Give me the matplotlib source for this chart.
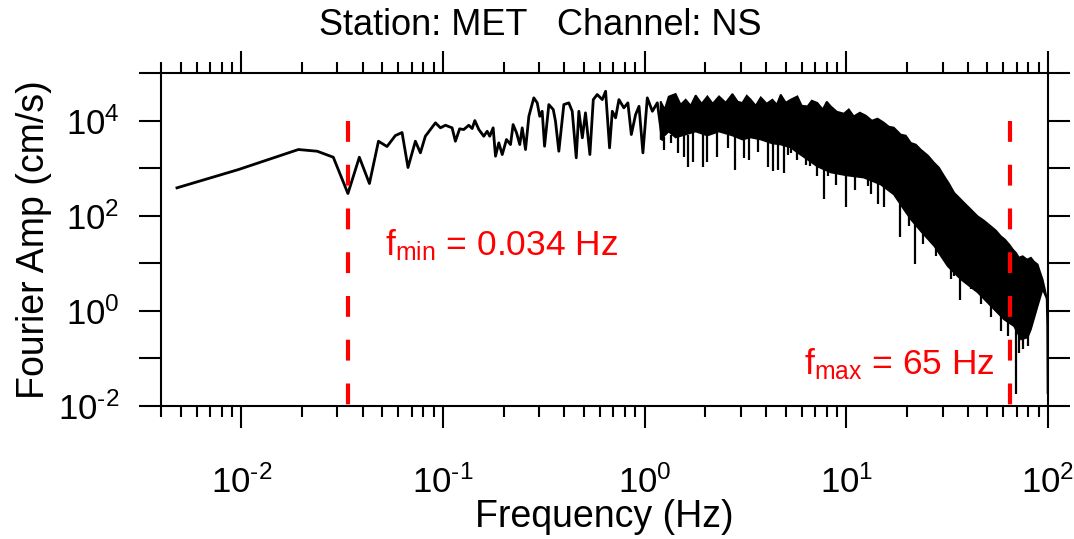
import numpy as np
import matplotlib
matplotlib.use('Agg')
import matplotlib.pyplot as plt
from matplotlib.ticker import LogLocator, FuncFormatter, NullLocator

# low-frequency part of the spectrum (drawn as a plain line)
line_freq = [0.0048, 0.0097, 0.0192, 0.0238, 0.0286, 0.0338, 0.0385, 0.0432, 0.0479, 0.0528,
             0.0581, 0.0627, 0.0671, 0.0730, 0.0773, 0.0818, 0.0918, 0.0972, 0.1029, 0.111,
             0.1153, 0.121, 0.1268, 0.1343, 0.1396, 0.1439, 0.1507, 0.1594, 0.1657, 0.1706,
             0.1774, 0.1822, 0.1892, 0.1968, 0.2065, 0.2163, 0.2228, 0.2317, 0.2404, 0.2472,
             0.2567, 0.2667, 0.2822, 0.2934, 0.302, 0.3105, 0.319, 0.335, 0.3524, 0.3614,
             0.3755, 0.3976, 0.4207, 0.4375, 0.458, 0.472, 0.491, 0.509, 0.5353, 0.5565,
             0.582, 0.6166, 0.6405, 0.670, 0.6914, 0.7178, 0.7457, 0.789, 0.826, 0.859,
             0.902, 0.938, 0.9806, 1.031, 1.092, 1.156, 1.224, 1.296]
line_amp = [385, 935, 2460, 2265, 1694, 292, 1694, 475, 3675, 2845,
            4840, 5600, 1030, 3675, 2095, 4680, 8950, 7030, 7970, 7030,
            3675, 6700, 6470, 7970, 6790, 10000, 6470, 4680, 5960, 4680,
            7030, 1780, 3400, 1930, 3990, 3130, 8240, 5520, 3130, 7030,
            2460, 12300, 30000, 23550, 12300, 15670, 2885, 21680, 17020, 9670,
            2265, 21680, 23550, 15670, 1645, 15670, 4335, 14520, 1930, 27600,
            35200, 27600, 41300, 2670, 15670, 11400, 27600, 18490, 23550, 5080,
            13370, 19950, 2095, 30000, 15670, 23550, 3990, 18490]

# dense part: upper and lower edge of the black band
upper_freq = [1.20, 1.257, 1.315, 1.425, 1.509, 1.598, 1.692, 1.791, 1.918, 2.047,
              2.175, 2.338, 2.523, 2.725, 2.894, 3.05, 3.208, 3.358, 3.556, 3.765,
              4.03, 4.30, 4.52, 4.73, 5.01, 5.30, 5.72, 6.01, 6.42, 6.74,
              7.19, 7.64, 8.00, 8.38, 8.97, 9.72, 10.29, 10.89, 11.67, 12.5,
              13.39, 14.29, 15.35, 16.25, 17.2, 18.64, 19.73, 20.9, 22.13, 23.4,
              25.4, 27.3, 28.8, 30.6, 32.3, 34.3, 36.2, 38.4, 41.5, 44.8,
              48.1, 52.1, 55.2, 58.4, 61.2, 64.3, 67.0, 69.4, 71.8, 74.9,
              78.7, 82.3, 85.2, 88.9, 91.2, 94.1, 96.6, 98.9]
upper_amp = [25400, 17250, 31900, 36400, 21700, 27600, 20650, 34000, 22750, 32400,
             22750, 32400, 23900, 36400, 25050, 23550, 33500, 27600, 20650, 30850,
             22750, 27600, 21700, 35200, 23900, 27600, 32400, 20650, 19950, 26300,
             23550, 17250, 25050, 19950, 15450, 14030, 17250, 12300, 14720, 12740,
             10000, 11020, 9080, 7480, 7130, 5080, 4840, 3400, 3130, 2460,
             1840, 1290, 1030, 676, 475, 303, 241, 187, 135, 97.6,
             79.3, 60.1, 48.9, 37.1, 31.6, 24.8, 19.5, 16.6, 13.2, 14.1,
             12.0, 13.1, 10.9, 9.44, 6.73, 4.57, 2.82, 1.73]
lower_freq = [1.20, 1.315, 1.425, 1.598, 1.791, 2.047, 2.338, 2.725, 3.05, 3.358,
              3.765, 4.30, 4.73, 5.30, 5.72, 6.42, 7.19, 8.38, 10.1, 12.2,
              14.8, 17.2, 19.3, 20.9, 23.7, 27.3, 31.8, 37.0, 44.8, 52.1,
              60.5, 67.8, 73.5, 79.3, 82.3, 88.9, 94.1]
lower_amp = [3990, 5870, 4400, 5080, 5870, 4840, 5870, 4840, 3990, 4400,
             3990, 3290, 3130, 2710, 2130, 1515, 1080, 809, 699, 632,
             452, 279, 135, 83.2, 44.4, 22.9, 8.69, 4.57, 2.44, 1.26,
             0.66, 0.477, 0.25, 0.276, 0.407, 1.26, 2.82]

# deep troughs reaching below the band
spike_freq = [1.243, 1.346, 1.458, 1.561, 1.635, 1.730, 1.94, 2.03, 2.277, 2.58,
              2.797, 3.10, 3.28, 3.64, 4.08, 4.32, 4.57, 4.90, 5.13, 5.30,
              5.68, 6.30, 6.61, 7.19, 7.71, 8.07, 8.87, 9.94, 11.1, 12.8,
              13.2, 14.3, 15.3, 16.1, 18.4, 20.4, 21.9, 24.0, 26.2, 27.8,
              30.6, 33.0, 34.3, 36.7, 40.7, 41.5, 46.5, 52.1, 58.4, 63.1,
              69.4, 72.1, 75.1, 79.3]
spike_low = [2460, 3450, 2130, 1755, 1080, 1377, 1080, 1313, 1755, 2710,
             933, 1670, 1515, 2235, 1080, 891, 933, 809, 1930, 2096,
             1515, 1190, 1096, 676, 219, 676, 452, 149, 355, 417,
             279, 172, 149, 355, 34.8, 59.3, 9.44, 24.8, 31.6, 14.0,
             16.6, 4.57, 5.36, 1.73, 3.9, 2.82, 1.36, 0.726, 0.375, 0.294,
             0.0175, 0.132, 0.155, 0.181]
spike_top = [4500, 5000, 4500, 5000, 5000, 5500, 5500, 5000, 5500, 5000,
             5000, 4500, 4500, 4500, 4000, 3500, 3500, 3500, 3000, 3000,
             2500, 1800, 1700, 1300, 1300, 1100, 1000, 800, 800, 700,
             600, 550, 500, 400, 180, 110, 90, 50, 35, 25,
             15, 12, 9, 6, 5, 4, 2.5, 1.5, 0.9, 0.7,
             0.6, 0.35, 0.35, 0.35]

tail_freq = [98.9, 99.5, 99.9]
tail_amp = [1.73, 0.48, 0.019]

f_min = 0.034
f_max = 65

plt.rcParams['font.family'] = 'Liberation Sans'
plt.rcParams['mathtext.fontset'] = 'custom'
plt.rcParams['mathtext.rm'] = 'Liberation Sans'
plt.rcParams['mathtext.it'] = 'Liberation Sans:italic'
plt.rcParams['mathtext.bf'] = 'Liberation Sans:bold'
plt.rcParams['axes.unicode_minus'] = False

fig = plt.figure(figsize=(10.74, 5.39), dpi=100)
ax = fig.add_axes([0.1499, 0.2468, 0.8259, 0.6178])

ax.plot(line_freq, line_amp, color='black', lw=2.0)
poly_f = upper_freq + lower_freq[::-1]
poly_a = upper_amp + lower_amp[::-1]
ax.fill(poly_f, poly_a, facecolor='black', edgecolor='black', lw=1.2)
ax.vlines(spike_freq, spike_low, spike_top, color='black', lw=1.6)
ax.plot([upper_freq[-1]] + tail_freq, [upper_amp[-1]] + tail_amp, color='black', lw=1.8)

for f in (f_min, f_max):
    ax.plot([f, f], [1e4, 1e-2], color='red', lw=3, linestyle=(0, (5, 5.5)))

ax.text(0.0518, 14.6, r'$\mathregular{f_{min}}$ = 0.034 Hz', color='red', fontsize=25.5,
        ha='left', va='baseline')
ax.text(6.15, 0.046, r'$\mathregular{f_{max}}$ = 65 Hz', color='red', fontsize=25.5,
        ha='left', va='baseline')

ax.set_xscale('log')
ax.set_yscale('log')
ax.set_xlim(0.004, 100)
ax.set_ylim(1e-2, 1e5)

ax.xaxis.set_major_locator(LogLocator(base=10, numticks=20))
ax.xaxis.set_minor_locator(LogLocator(base=10, subs=np.arange(2, 10), numticks=20))
ax.yaxis.set_major_locator(LogLocator(base=10, numticks=20))
ax.yaxis.set_minor_locator(NullLocator())


def exp_label(e):
    # short hyphen for negative exponents, as in the original figure
    s = ('\u2010%d' % -e) if e < 0 else '%d' % e
    return r'$\mathdefault{10^{%s}}$' % s


def x_fmt(v, pos):
    return exp_label(int(round(np.log10(v))))


def y_fmt(v, pos):
    e = int(round(np.log10(v)))
    return exp_label(e) if e % 2 == 0 else ''


ax.xaxis.set_major_formatter(FuncFormatter(x_fmt))
ax.yaxis.set_major_formatter(FuncFormatter(y_fmt))

ax.tick_params(which='both', direction='out', top=True, right=True,
               labeltop=False, labelright=False, width=1.5, labelsize=25)
ax.tick_params(which='major', length=16)
ax.tick_params(which='minor', length=8)
ax.tick_params(axis='x', which='major', pad=27)
ax.tick_params(axis='y', which='major', pad=14)
for s in ax.spines.values():
    s.set_linewidth(1.5)

ax.set_xlabel('Frequency (Hz)', fontsize=27)
ax.set_ylabel('Fourier Amp (cm/s)', fontsize=27)
ax.xaxis.set_label_coords(0.5, -0.28)
ax.yaxis.set_label_coords(-0.123, 0.5)
fig.text(0.503, 0.935, 'Station: MET   Channel: NS', fontsize=26, ha='center', va='baseline')

fig.savefig('out.png', dpi=100)
